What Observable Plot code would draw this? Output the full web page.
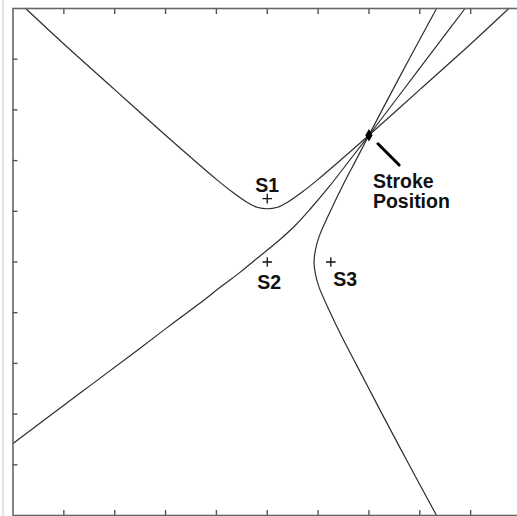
<!DOCTYPE html>
<html>
<head>
<meta charset="utf-8">
<script src="https://cdn.jsdelivr.net/npm/d3@7"></script>
<script src="https://cdn.jsdelivr.net/npm/@observablehq/plot@0.6"></script>
<style>
  html, body { margin: 0; padding: 0; background: #fff; overflow: hidden; }
  #wrap { position: relative; width: 517px; height: 516px; overflow: hidden; }
  #edge { position: absolute; left: 2px; top: 0; width: 2px; height: 516px; background: #e4e4e4; }
  #chart { position: absolute; left: 0; top: 0; width: 522px; height: 516px; }
  #chart svg { max-width: none !important; width: 522px; height: 516px; }
</style>
</head>
<body>
<div id="wrap"><div id="chart"></div><div id="edge"></div></div>
<script>
// Tick positions (no labels in the original)
const xTicks = [1, 2, 3, 4, 5, 6, 7, 8, 9];
const yTicks = [1, 2, 3, 4, 5, 6, 7, 8, 9];

// Sensors
const sensorNames = ["S1", "S2", "S3"];
const sensorX = [5, 5, 6.25];
const sensorY = [6.25, 5, 5];

// Stroke position
const strokeLabel = ["Stroke\nPosition"];
const strokeX = [7];
const strokeY = [7.5];

// Curve through stroke bending around S1
const curveS1X = [0.25, 1, 2, 3, 3.5, 4, 4.3, 4.6, 4.8, 5, 5.2, 5.4, 5.7, 6, 6.5, 7, 8, 9, 9.75];
const curveS1Y = [10, 9.30, 8.40, 7.50, 7.06, 6.63, 6.39, 6.18, 6.08, 6.05, 6.08, 6.18, 6.39, 6.63, 7.06, 7.50, 8.40, 9.30, 10];

// Curve from lower left, passing near S2, through stroke
const curveS2X = [0, 1.34, 2.46, 3.05, 3.64, 4.10, 4.47, 4.76, 5.20, 5.54, 5.85, 6.22, 6.73, 7, 7.53, 8.51, 8.89];
const curveS2Y = [1.42, 2.43, 3.27, 3.72, 4.16, 4.52, 4.80, 5.04, 5.40, 5.71, 6.05, 6.49, 7.15, 7.5, 8.20, 9.50, 10];

// Curve bending around S3, through stroke down to the bottom
const curveS3X = [8.33, 7.79, 7.26, 7.0, 6.74, 6.48, 6.24, 6.02, 5.95, 5.92, 5.95, 6.02, 6.24, 6.48, 6.74, 7.0, 7.26, 7.79, 8.33];
const curveS3Y = [10, 9, 8, 7.5, 7, 6.5, 6, 5.5, 5.25, 5, 4.75, 4.5, 4, 3.5, 3, 2.5, 2, 1, 0];

const curves = [
  ["S1", curveS1X, curveS1Y],
  ["S2", curveS2X, curveS2Y],
  ["S3", curveS3X, curveS3Y]
].flatMap(([name, xs, ys]) => xs.map((x, i) => ({curve: name, x, y: ys[i]})));

const sensors = sensorNames.map((name, i) => ({name, x: sensorX[i], y: sensorY[i]}));
const stroke = strokeLabel.map((label, i) => ({label, x: strokeX[i], y: strokeY[i]}));

const font = "Liberation Sans, Arial, Helvetica, sans-serif";
const leaderShape = {draw(context, l) { context.moveTo(0, 0); context.lineTo(0, -l); }};
const blank = () => "";
const fs = 19.5;

const chart = Plot.plot({
  width: 522,
  height: 516,
  marginLeft: 12.5,
  marginRight: 1,
  marginTop: 8,
  marginBottom: 1,
  x: {domain: [0, 10]},
  y: {domain: [0, 10]},
  style: {background: "white", fontFamily: font, maxWidth: "none"},
  marks: [
    Plot.line(curves, {x: "x", y: "y", z: "curve", curve: "catmull-rom", stroke: "#2e2e2e", strokeWidth: 1.2}),
    Plot.frame({stroke: "#666", strokeWidth: 1.6}),
    Plot.axisX({anchor: "bottom", ticks: xTicks, tickSize: -5, tickFormat: blank, label: null, stroke: "#555", strokeWidth: 1.4}),
    Plot.axisX({anchor: "top", ticks: xTicks, tickSize: -5, tickFormat: blank, label: null, stroke: "#555", strokeWidth: 1.4}),
    Plot.axisY({anchor: "left", ticks: yTicks, tickSize: -5, tickFormat: blank, label: null, stroke: "#555", strokeWidth: 1.4}),
    Plot.axisY({anchor: "right", ticks: yTicks, tickSize: -5, tickFormat: blank, label: null, stroke: "#555", strokeWidth: 1.4}),
    Plot.dot(sensors, {x: "x", y: "y", symbol: "plus", r: 3.2, stroke: "#111", strokeWidth: 1.3}),
    Plot.dot(stroke, {x: "x", y: "y", symbol: "diamond", r: 3.4, fill: "#000", stroke: "#000", strokeWidth: 0.8}),
    Plot.vector(stroke, {x: "x", y: "y", anchor: "start", length: 30, rotate: 135, dx: 9, dy: 8.5, stroke: "#000", strokeWidth: 3, shape: leaderShape}),
    Plot.text(sensors.filter(d => d.name === "S1"), {x: "x", y: "y", text: "name", lineAnchor: "bottom", dy: -7, fontSize: fs, fontWeight: "bold", fill: "#111", fontFamily: font}),
    Plot.text(sensors.filter(d => d.name === "S2"), {x: "x", y: "y", text: "name", lineAnchor: "bottom", dx: 2, dy: 27, fontSize: fs, fontWeight: "bold", fill: "#111", fontFamily: font}),
    Plot.text(sensors.filter(d => d.name === "S3"), {x: "x", y: "y", text: "name", textAnchor: "start", lineAnchor: "bottom", dx: 2.5, dy: 24, fontSize: fs, fontWeight: "bold", fill: "#111", fontFamily: font}),
    Plot.text(stroke, {x: "x", y: "y", text: "label", textAnchor: "start", lineAnchor: "top", lineHeight: 1.03, dx: 4, dy: 38, fontSize: fs, fontWeight: "bold", fill: "#111", fontFamily: font})
  ]
});
document.getElementById("chart").appendChild(chart);
</script>
</body>
</html>
